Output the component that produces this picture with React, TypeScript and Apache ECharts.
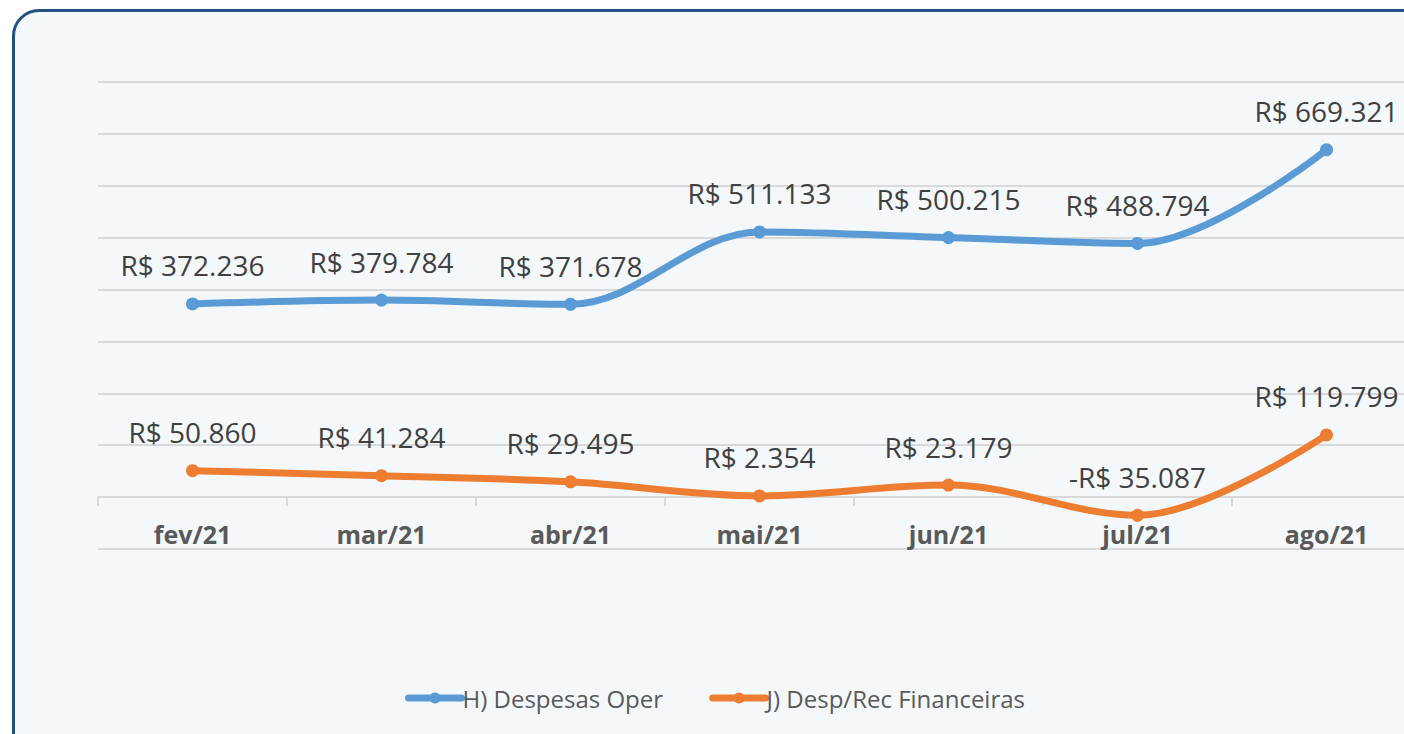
import React, { useEffect, useRef } from "react";
import * as echarts from "echarts";

const categories = ["fev/21", "mar/21", "abr/21", "mai/21", "jun/21", "jul/21", "ago/21"];
const despesasOper = [372236, 379784, 371678, 511133, 500215, 488794, 669321];
const despRecFin = [50860, 41284, 29495, 2354, 23179, -35087, 119799];
const seriesNames = ["H) Despesas Oper", "J) Desp/Rec Financeiras"];

const fmt = (v: number) => {
  const s = Math.abs(v).toLocaleString("pt-BR");
  return (v < 0 ? "-R$ " : "R$ ") + s;
};

export default function App() {
  const ref = useRef<HTMLDivElement>(null);
  useEffect(() => {
    if (!ref.current) return;
    const chart = echarts.init(ref.current, undefined, { renderer: "svg" });
    const labelStyle = {
      show: true,
      position: "top" as const,
      distance: 18,
      fontFamily: "Open Sans",
      fontSize: 28,
      color: "#404040",
      formatter: (p: any) => fmt(p.value),
    };
    chart.setOption({
      animation: false,
      backgroundColor: "transparent",
      textStyle: { fontFamily: "Open Sans" },
      grid: { left: 98, top: 82, width: 1323, height: 467 },
      legend: {
        left: 400,
        top: 681,
        itemWidth: 53,
        itemHeight: 14,
        itemGap: 46,
        lineStyle: { width: 7, cap: "round" },
        textStyle: { fontFamily: "Open Sans", fontSize: 24, color: "#595959", padding: [0, 0, 0, -4] },
        data: seriesNames,
      },
      xAxis: {
        type: "category",
        data: categories,
        boundaryGap: true,
        axisLine: { onZero: true, lineStyle: { color: "#d9d9d9", width: 2 } },
        axisTick: { show: true, length: 9, interval: 0, lineStyle: { color: "#d9d9d9", width: 2 } },
        axisLabel: {
          margin: -28,
          fontFamily: "Open Sans",
          fontWeight: "bold",
          fontSize: 25,
          color: "#595959",
        },
      },
      yAxis: {
        type: "value",
        min: -100000,
        max: 800000,
        interval: 100000,
        axisLabel: { show: false },
        axisLine: { show: false },
        axisTick: { show: false },
        splitLine: { lineStyle: { color: "#d9d9d9", width: 2 } },
      },
      series: [
        {
          name: seriesNames[0],
          type: "line",
          data: despesasOper,
          smooth: 0.35,
          symbol: "circle",
          symbolSize: 13,
          color: "#5b9bd5",
          lineStyle: { width: 7, color: "#5b9bd5", cap: "round" },
          itemStyle: { color: "#5b9bd5" },
          label: labelStyle,
        },
        {
          name: seriesNames[1],
          type: "line",
          data: despRecFin,
          smooth: 0.35,
          symbol: "circle",
          symbolSize: 13,
          color: "#ed7d31",
          lineStyle: { width: 7, color: "#ed7d31", cap: "round" },
          itemStyle: { color: "#ed7d31" },
          label: labelStyle,
        },
      ],
    });
    return () => chart.dispose();
  }, []);

  return (
    <div style={{ position: "fixed", left: 0, top: 0, width: 1404, height: 734, overflow: "hidden", background: "#ffffff" }}>
      <div
        style={{
          position: "absolute",
          left: 12,
          top: 9,
          width: 1440,
          height: 760,
          boxSizing: "border-box",
          border: "3px solid #22527f",
          borderRadius: 27,
          background: "#f4f8fb",
        }}
      />
      <div ref={ref} style={{ position: "absolute", left: 0, top: 0, width: 1500, height: 734 }} />
    </div>
  );
}
